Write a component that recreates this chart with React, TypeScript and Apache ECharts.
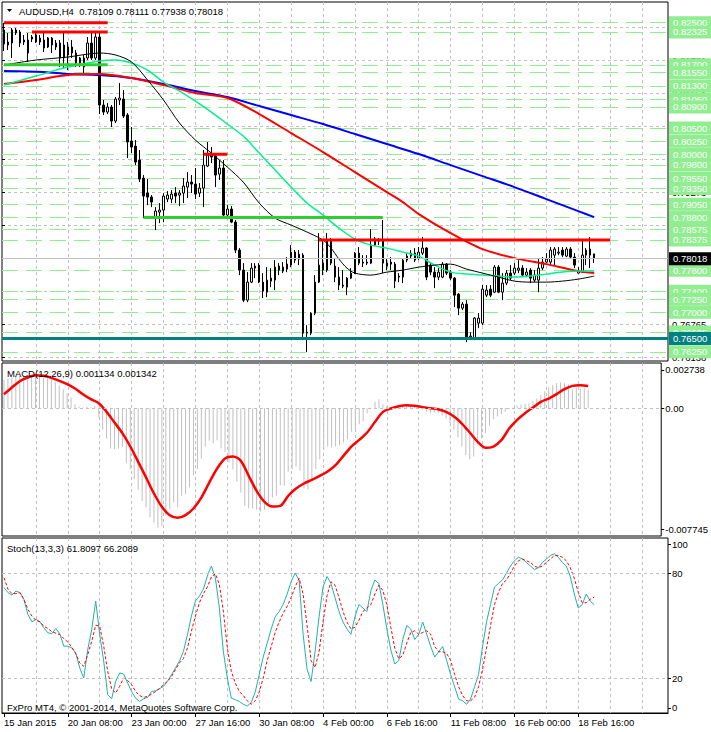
import React, { useEffect, useRef } from "react";
import * as echarts from "echarts";

// ---------------- data ----------------
const symbolName = "AUDUSD,H4";
const timeLabels = ["15 Jan 2015", "20 Jan 08:00", "23 Jan 00:00", "27 Jan 16:00", "30 Jan 08:00", "4 Feb 00:00", "6 Feb 16:00", "11 Feb 08:00", "16 Feb 00:00", "18 Feb 16:00"];
const barsPerTimeLabel = 16;
const barsPerGridLine = 8;

const opens = [
  0.82361, 0.82133, 0.82114, 0.82361, 0.82323, 0.82171, 0.81924, 0.8219, 0.82133, 0.82209,
  0.82171, 0.82038, 0.82209, 0.82114, 0.82114, 0.82076, 0.81886, 0.82038, 0.81924, 0.81829,
  0.81658, 0.81829, 0.82114, 0.81829, 0.82228, 0.80936, 0.80803, 0.80898, 0.80632, 0.81031,
  0.8105, 0.80746, 0.80252, 0.80157, 0.79891, 0.79549, 0.79264, 0.79188, 0.78789, 0.78903,
  0.78941, 0.7915, 0.7915, 0.79264, 0.79226, 0.79264, 0.79378, 0.79473, 0.79435, 0.79264,
  0.79359, 0.79777, 0.79986, 0.79967, 0.79625, 0.79739, 0.78846, 0.7896, 0.78713, 0.78181,
  0.77801, 0.77231, 0.77573, 0.77839, 0.77896, 0.77573, 0.77383, 0.77592, 0.77611, 0.77877,
  0.77858, 0.7782, 0.77896, 0.78143, 0.7801, 0.78086, 0.76604, 0.76604, 0.76984, 0.77573,
  0.77934, 0.77801, 0.78371, 0.77877, 0.77668, 0.77516, 0.77478, 0.77649, 0.77744, 0.78124,
  0.77953, 0.77953, 0.77934, 0.78276, 0.78352, 0.78371, 0.77934, 0.77953, 0.77915, 0.77668,
  0.77668, 0.77991, 0.78067, 0.78124, 0.78029, 0.78124, 0.78219, 0.77896, 0.77763, 0.77668,
  0.77668, 0.77915, 0.77763, 0.77649, 0.77345, 0.77079, 0.77155, 0.76528, 0.76509, 0.76794,
  0.76794, 0.77326, 0.7744, 0.77383, 0.77858, 0.77383, 0.77554, 0.77744, 0.77744, 0.77801,
  0.77839, 0.77706, 0.77801, 0.77611, 0.77611, 0.77839, 0.77953, 0.77953, 0.78086, 0.78124,
  0.78181, 0.78067, 0.782, 0.78048, 0.77744, 0.77763, 0.78086, 0.782, 0.78109,
];
const highs = [
  0.82494, 0.82304, 0.82399, 0.82399, 0.82361, 0.82266, 0.82304, 0.82266, 0.82323, 0.82266,
  0.82304, 0.82228, 0.82228, 0.82171, 0.82171, 0.82304, 0.82133, 0.82171, 0.81981, 0.81848,
  0.81886, 0.82228, 0.82304, 0.82304, 0.82304, 0.81031, 0.80974, 0.80936, 0.81088, 0.81354,
  0.81221, 0.80784, 0.80518, 0.80271, 0.80081, 0.79606, 0.7953, 0.79226, 0.78998, 0.79074,
  0.79264, 0.79302, 0.79321, 0.79378, 0.79321, 0.79549, 0.79663, 0.79606, 0.79739, 0.79454,
  0.80081, 0.80233, 0.80138, 0.80024, 0.79891, 0.79891, 0.79036, 0.79017, 0.78751, 0.78219,
  0.77934, 0.77763, 0.77934, 0.77934, 0.77934, 0.77744, 0.77858, 0.77839, 0.77991, 0.77934,
  0.77953, 0.78048, 0.78276, 0.78181, 0.78181, 0.78124, 0.76756, 0.77003, 0.77706, 0.78504,
  0.78371, 0.78504, 0.78409, 0.78029, 0.77858, 0.77801, 0.77668, 0.77839, 0.78143, 0.78238,
  0.78086, 0.78086, 0.7858, 0.78428, 0.78409, 0.78751, 0.78029, 0.78048, 0.77953, 0.77744,
  0.78029, 0.78124, 0.78181, 0.78219, 0.78238, 0.78428, 0.78238, 0.77953, 0.77858, 0.77839,
  0.77953, 0.77934, 0.77801, 0.77668, 0.77364, 0.77193, 0.77231, 0.76623, 0.76908, 0.76984,
  0.77516, 0.77516, 0.77516, 0.77896, 0.77896, 0.77744, 0.77801, 0.77896, 0.77934, 0.77991,
  0.77896, 0.77839, 0.77839, 0.77801, 0.78029, 0.78048, 0.78124, 0.78238, 0.78238, 0.78238,
  0.78238, 0.78238, 0.78238, 0.78124, 0.77858, 0.78371, 0.78219, 0.78428, 0.78111,
];
const lows = [
  0.81962, 0.81981, 0.81829, 0.82266, 0.82038, 0.82076, 0.81753, 0.82133, 0.82114, 0.82076,
  0.81943, 0.82019, 0.81924, 0.81981, 0.81658, 0.81639, 0.81601, 0.81829, 0.81658, 0.81658,
  0.81544, 0.81791, 0.81791, 0.81791, 0.80765, 0.80746, 0.80765, 0.80518, 0.80594, 0.80936,
  0.80689, 0.79929, 0.80024, 0.79796, 0.79473, 0.78789, 0.79036, 0.78998, 0.78561, 0.78694,
  0.78713, 0.79093, 0.79074, 0.79074, 0.79017, 0.79074, 0.79169, 0.79264, 0.7915, 0.79188,
  0.78998, 0.79758, 0.79834, 0.79378, 0.79511, 0.78808, 0.78808, 0.78694, 0.78124, 0.77706,
  0.77193, 0.77193, 0.77554, 0.77649, 0.77554, 0.77269, 0.77288, 0.77478, 0.77421, 0.77706,
  0.77744, 0.77763, 0.77858, 0.77934, 0.77896, 0.76471, 0.76243, 0.76566, 0.76946, 0.77554,
  0.77706, 0.77763, 0.77896, 0.77573, 0.77421, 0.77459, 0.77326, 0.7763, 0.77725, 0.77896,
  0.77858, 0.77896, 0.77915, 0.78257, 0.78276, 0.77744, 0.77801, 0.77801, 0.77459, 0.77573,
  0.77554, 0.77953, 0.78029, 0.77953, 0.77991, 0.78086, 0.77611, 0.77706, 0.77459, 0.77611,
  0.77649, 0.77706, 0.77611, 0.77098, 0.76946, 0.77041, 0.76433, 0.76471, 0.76471, 0.76699,
  0.76756, 0.77288, 0.77288, 0.77364, 0.77364, 0.77231, 0.77516, 0.77611, 0.77706, 0.77744,
  0.77668, 0.77668, 0.77554, 0.77573, 0.77383, 0.77801, 0.77934, 0.77896, 0.77896, 0.78086,
  0.78048, 0.78048, 0.78029, 0.77839, 0.77744, 0.77763, 0.77896, 0.77839, 0.77938,
];
const closes = [
  0.82095, 0.82076, 0.82361, 0.82304, 0.82114, 0.82133, 0.82171, 0.82228, 0.82266, 0.82133,
  0.82019, 0.82209, 0.82076, 0.82038, 0.81829, 0.81829, 0.82038, 0.81924, 0.81734, 0.81734,
  0.81829, 0.82114, 0.81829, 0.82228, 0.80936, 0.80803, 0.80898, 0.80632, 0.8105, 0.81069,
  0.80727, 0.80233, 0.80138, 0.79853, 0.7953, 0.79207, 0.79188, 0.79093, 0.78922, 0.78941,
  0.79207, 0.79226, 0.79245, 0.79207, 0.79264, 0.79397, 0.79473, 0.79435, 0.79245, 0.79359,
  0.79796, 0.79986, 0.79948, 0.79606, 0.79739, 0.78846, 0.7896, 0.78713, 0.78181, 0.77801,
  0.77231, 0.77573, 0.77839, 0.77877, 0.77573, 0.77402, 0.77611, 0.77649, 0.77858, 0.77801,
  0.77782, 0.77915, 0.78143, 0.77991, 0.78105, 0.76604, 0.76623, 0.76984, 0.77573, 0.77896,
  0.77801, 0.78371, 0.77934, 0.77668, 0.77516, 0.77497, 0.77649, 0.77744, 0.78124, 0.77934,
  0.77934, 0.77934, 0.78276, 0.7839, 0.7839, 0.77934, 0.77877, 0.77915, 0.77592, 0.77687,
  0.77991, 0.78067, 0.78124, 0.77991, 0.78143, 0.78219, 0.77668, 0.77763, 0.77668, 0.77763,
  0.77915, 0.77744, 0.77649, 0.77326, 0.77079, 0.77155, 0.76528, 0.76547, 0.76889, 0.76889,
  0.7744, 0.77421, 0.77326, 0.77858, 0.77383, 0.77554, 0.77744, 0.77649, 0.77839, 0.77839,
  0.77706, 0.77763, 0.77649, 0.77706, 0.77839, 0.77953, 0.7801, 0.78181, 0.782, 0.78143,
  0.78086, 0.782, 0.78048, 0.77896, 0.77782, 0.78086, 0.78181, 0.78086, 0.78018,
];

// moving averages: [bar index, price]
const maFast = [[0, 0.81696], [8, 0.81791], [16, 0.81848], [24, 0.81924], [28, 0.81886], [32, 0.81753], [36, 0.81411], [40, 0.81031], [44, 0.80594], [48, 0.80271], [52, 0.80024], [56, 0.79758], [60, 0.79473], [64, 0.79074], [68, 0.78789], [72, 0.78656], [76, 0.78523], [80, 0.78371], [82, 0.78219], [84, 0.7801], [86, 0.77839], [88, 0.77744], [92, 0.77706], [96, 0.77763], [100, 0.77801], [104, 0.77858], [108, 0.77896], [112, 0.77915], [116, 0.7782], [120, 0.77744], [124, 0.77668], [128, 0.77592], [132, 0.77573], [136, 0.77573], [140, 0.77592], [144, 0.7763], [148, 0.77687]];
const maMid = [[0, 0.81316], [8, 0.81487], [16, 0.81658], [24, 0.81772], [28, 0.81791], [32, 0.81734], [36, 0.81601], [40, 0.81373], [44, 0.81202], [48, 0.81012], [52, 0.80803], [56, 0.80575], [60, 0.80347], [64, 0.80024], [68, 0.79701], [72, 0.79378], [76, 0.79074], [80, 0.78846], [84, 0.78599], [88, 0.7839], [92, 0.78276], [96, 0.78219], [100, 0.78143], [104, 0.78067], [108, 0.77896], [112, 0.77763], [116, 0.77725], [120, 0.77706], [124, 0.77687], [128, 0.77668], [132, 0.77687], [136, 0.77725], [140, 0.77763], [144, 0.77782], [148, 0.77782]];
const maSlow = [[0, 0.81335], [8, 0.81411], [16, 0.81506], [24, 0.81525], [32, 0.81449], [40, 0.81316], [48, 0.81164], [56, 0.81069], [64, 0.80765], [72, 0.80404], [80, 0.80043], [88, 0.79663], [96, 0.79283], [100, 0.79093], [104, 0.78865], [112, 0.78504], [120, 0.782], [128, 0.78029], [136, 0.77915], [144, 0.77782], [148, 0.77744]];
const maLong = [[0, 0.81582], [10, 0.81563], [16, 0.81525], [24, 0.81506], [32, 0.81449], [40, 0.81335], [48, 0.81202], [56, 0.81088], [64, 0.80917], [72, 0.80746], [80, 0.80575], [88, 0.80385], [96, 0.80195], [104, 0.80005], [112, 0.79796], [120, 0.79587], [128, 0.79378], [136, 0.7915], [144, 0.78922], [148, 0.78808]];

// horizontal levels
const levelPrices = [0.825, 0.82325, 0.817, 0.8155, 0.813, 0.8105, 0.809, 0.805, 0.8025, 0.8, 0.798, 0.7955, 0.7935, 0.7905, 0.788, 0.78575, 0.78375, 0.778, 0.774, 0.7725, 0.77, 0.76625, 0.7625];
const supportPrice = 0.765;
const redSegments = [[0, 26, 0.825], [7, 26, 0.82325], [50, 56, 0.8], [79, 152, 0.78375]];
const greenSegments = [[0, 26, 0.817], [35, 95, 0.788]];
const priceScaleTicks = [0.76138, 0.76765, 0.77392, 0.78019, 0.78646, 0.79273, 0.799, 0.80527, 0.81154, 0.81781, 0.82408];
const priceMin = 0.76075;
const priceMax = 0.82893;

// MACD
const macdMain = [
  0.001717, 0.001798, 0.001858, 0.001919, 0.001959, 0.002, 0.001959, 0.002, 0.001959, 0.001919,
  0.001858, 0.001818, 0.001717, 0.001596, 0.001394, 0.001151, 0.000909, 0.000646, 0.000242, 0.000101,
  0.00004, 0.000081, 0.000061, 0.000141, -0.000566, -0.001313, -0.001838, -0.002444, -0.002485, -0.002444,
  -0.002323, -0.003333, -0.003697, -0.004303, -0.004949, -0.005616, -0.00602, -0.006626, -0.006929, -0.007232,
  -0.007131, -0.006525, -0.006121, -0.005717, -0.00602, -0.005313, -0.005212, -0.004808, -0.004101, -0.003697,
  -0.00305, -0.002323, -0.00198, -0.002121, -0.001939, -0.002444, -0.002646, -0.003293, -0.003697, -0.004464,
  -0.005111, -0.005919, -0.00606, -0.00608, -0.006161, -0.006282, -0.006161, -0.005919, -0.005414, -0.005313,
  -0.004666, -0.004707, -0.003858, -0.003697, -0.003535, -0.003798, -0.004868, -0.004949, -0.004343, -0.003697,
  -0.003091, -0.002525, -0.002323, -0.002384, -0.002323, -0.002242, -0.002081, -0.001879, -0.001434, -0.001273,
  -0.00097, -0.000788, -0.000303, 0.00002, 0.000384, 0.000545, 0.000242, 0.000101, -0.000101, -0.000061,
  0.000081, 0.000141, 0.000182, 0.000101, 0.000061, 0.00004, -0.000101, -0.000222, -0.000303, -0.000263,
  -0.000303, -0.000465, -0.000626, -0.000909, -0.001313, -0.001778, -0.002323, -0.002848, -0.003091, -0.002929,
  -0.002182, -0.001838, -0.001515, -0.001071, -0.000667, -0.000505, -0.000364, -0.000222, -0.000061, 0.00002,
  0.000141, 0.000222, 0.000263, 0.000303, 0.000424, 0.000586, 0.000788, 0.00103, 0.001273, 0.001394,
  0.001515, 0.001555, 0.001515, 0.001434, 0.001151, 0.001232, 0.001192, 0.001232, 0.001134,
];
const macdSignal = [[0, 0.000848], [2, 0.001252], [4, 0.001636], [6, 0.001858], [8, 0.002], [10, 0.001959], [12, 0.001838], [14, 0.001656], [16, 0.001454], [18, 0.001192], [20, 0.000848], [22, 0.000545], [24, 0.000303], [26, -0.000222], [28, -0.000869], [30, -0.001515], [32, -0.002323], [34, -0.003252], [36, -0.004202], [38, -0.005171], [40, -0.005979], [42, -0.006484], [44, -0.006646], [46, -0.006484], [48, -0.00608], [50, -0.005414], [52, -0.004505], [54, -0.003656], [56, -0.00305], [58, -0.002929], [60, -0.003192], [62, -0.004101], [64, -0.00501], [66, -0.005676], [68, -0.005959], [70, -0.005919], [72, -0.005313], [74, -0.004868], [76, -0.004565], [78, -0.004343], [80, -0.004101], [82, -0.003838], [84, -0.003454], [86, -0.002889], [88, -0.002323], [90, -0.001919], [92, -0.001475], [94, -0.000828], [96, -0.000222], [98, -0.00002], [100, 0.000121], [102, 0.000182], [104, 0.000141], [106, 0.000061], [108, 0], [110, -0.000061], [112, -0.000222], [114, -0.000505], [116, -0.000929], [118, -0.001475], [120, -0.00204], [122, -0.002404], [124, -0.002323], [126, -0.001939], [128, -0.001232], [130, -0.000707], [132, -0.000303], [134, 0.00004], [136, 0.000384], [138, 0.000586], [140, 0.000848], [142, 0.001151], [144, 0.001353], [146, 0.001394], [148, 0.001342]];
const macdMax = 0.002738;
const macdMin = -0.007745;
const macdAxisLabels = ["0.002738", "0.00", "-0.007745"];

// Stochastic
const stochK = [
  71.6, 68.8, 67.4, 69.7, 68.8, 64.9, 56.3, 52.1, 53.5, 52.1, 48.7, 45.8, 45.4, 48.3, 45.2, 38.2, 38.2, 37.2, 34.3, 25.7,
  20.0, 36.3, 47.7, 64.0, 44.8, 29.6, 10.4, 8.1, 18.1, 22.9, 22.3, 17.1, 12.3, 8.5, 6.6, 8.1, 8.9, 12.3, 12.7, 13.9,
  15.2, 18.1, 21.9, 25.7, 29.6, 35.3, 44.8, 55.4, 64.0, 66.8, 70.7, 78.3, 84.0, 77.3, 60.1, 35.3, 20.0, 8.5, 7.6, 6.6,
  5, 4, 6, 12, 22, 32, 40, 48, 55, 58, 62, 68, 75, 80, 76, 45, 25, 18, 35, 55,
  72, 78, 74, 66, 58, 52, 48, 45, 55, 62, 60, 58, 70, 76, 74, 62, 48, 36, 28, 30,
  42, 50, 48, 42, 45, 52, 45, 38, 32, 35, 38, 30, 22, 15, 8, 7, 5, 8, 15, 22,
  38, 52, 62, 72, 74, 76, 80, 84, 87, 89, 88, 86, 84, 82, 83, 86, 88, 90, 91, 89,
  86, 84, 78, 68, 60, 62, 68, 64, 61.8097,
];
const stochD = [
  77.3, 70.7, 68.2, 68.2, 68.8, 64.9, 59.2, 55.4, 52.9, 52.1, 49.6, 48.3, 46.4, 45.6, 44.8, 42.5, 40.6, 37.6, 33.8, 28.6,
  26.7, 33.4, 41.0, 50.2, 49.6, 38.2, 23.8, 13.9, 11.4, 15.2, 20.0, 18.5, 16.2, 12.3, 10.0, 8.9, 9.5, 10.8, 12.3, 13.9,
  16.2, 18.1, 20.9, 24.8, 28.6, 31.1, 37.2, 46.8, 55.4, 63.0, 68.2, 72.0, 77.7, 79.6, 73.5, 58.2, 37.2, 23.8, 17.1, 12.3,
  10, 7, 5, 7, 12, 20, 30, 38, 46, 52, 57, 61, 66, 72, 77, 68, 50, 30, 26, 35,
  52, 67, 75, 73, 66, 58, 52, 48, 49, 53, 58, 60, 62, 68, 73, 70, 62, 49, 37, 31,
  33, 40, 46, 47, 45, 46, 47, 45, 38, 35, 35, 34, 30, 22, 15, 10, 7, 7, 9, 15,
  25, 37, 50, 62, 69, 74, 76, 80, 84, 87, 88, 87, 86, 84, 83, 84, 86, 88, 90, 90,
  89, 87, 83, 77, 69, 63, 63, 65, 66.2089,
];
const stochLevels = [20, 80];
const stochAxisLabels = ["100", "80", "20", "0"];

// ---------------- layout ----------------
const W = 711;
const H = 732;
const PLOT_L = 2;
const PLOT_R = 668;
const SLOTS = 167;
const MAIN = [2, 361];
const MACD = [363, 536];
const STOCH = [538, 713];
const FONT = "Liberation Sans";
const FS = 9.5;

export default function App() {
  const ref = useRef<HTMLDivElement>(null);
  useEffect(() => {
    document.body.style.margin = "0";
    const chart = echarts.init(ref.current!, null, { renderer: "svg" });
    const slot = (PLOT_R - PLOT_L) / SLOTS;
    const cx = (i: number) => PLOT_L + slot * (i + 0.5);
    const priceY = (p: number) => MAIN[0] + ((priceMax - p) / (priceMax - priceMin)) * (MAIN[1] - MAIN[0]);
    const cats = Array.from({ length: SLOTS }, (_, i) => String(i));
    const dash = { color: "#C0C0C0", type: [3, 3] as any, width: 1 };
    const lastGridBar = Math.floor((SLOTS - 7) / barsPerGridLine) * barsPerGridLine;
    const vCount = lastGridBar / barsPerGridLine - 1;
    const vGrid = (top: number, bottom: number) => ({ left: cx(barsPerGridLine), right: W - cx(lastGridBar), top, bottom: H - bottom });
    const borderGrid = (top: number, bottom: number) => ({ left: PLOT_L, right: W - PLOT_R, top, bottom: H - bottom, show: true, borderColor: "#000", borderWidth: 1, backgroundColor: "transparent" });
    const hiddenCat = (gi: number) => ({ type: "category", gridIndex: gi, data: cats, boundaryGap: true, show: false });
    const vAxisX = (gi: number) => ({ type: "value", gridIndex: gi, min: 0, max: vCount, interval: 1, axisLine: { show: false }, axisTick: { show: false }, axisLabel: { show: false }, splitLine: { show: true, lineStyle: dash } });
    const hiddenVal = (gi: number) => ({ type: "value", gridIndex: gi, min: 0, max: 1, show: false });
    const isTimeLabel = (idx: number) => idx % barsPerTimeLabel === 0 && idx / barsPerTimeLabel < timeLabels.length;
    const n = closes.length;
    const candles = opens.map((o, i) => [o, closes[i], lows[i], highs[i]]);
    const txt = { fontFamily: FONT, fontSize: FS, color: "#000" };

    const segSeries = (segs: number[][], color: string) =>
      segs.map((s) => ({
        type: "line", xAxisIndex: 0, yAxisIndex: 0, z: 5, silent: true, symbol: "none",
        data: [[s[0], s[2]], [s[1], s[2]]],
        lineStyle: { color, width: 3 },
      }));
    const maSeries = (d: number[][], color: string, width: number) => ({
      type: "line", xAxisIndex: 0, yAxisIndex: 0, z: 4, silent: true, symbol: "none", smooth: 0.3,
      data: d, lineStyle: { color, width },
    });
    const boxLabel = (bg: string, text: string) => ({
      show: true, position: "end", distance: 1, formatter: text, backgroundColor: bg, color: "#fff",
      fontFamily: FONT, fontSize: 9.5, padding: [2, 5, 1, 4], lineHeight: 10,
    });

    const redSeries = segSeries(redSegments, "#FF0000");
    (redSeries[redSeries.length - 1] as any).markLine = {
      silent: true, symbol: ["none", "none"], z: 6, precision: 6,
      data: [
        { yAxis: supportPrice, lineStyle: { color: "#008080", width: 3, type: "solid" }, label: boxLabel("#008080", supportPrice.toFixed(5)) },
        { yAxis: closes[n - 1], lineStyle: { color: "#C0C0C0", width: 1, type: "solid" }, label: boxLabel("#000000", closes[n - 1].toFixed(5)) },
      ],
    };

    const option: any = {
      animation: false,
      backgroundColor: "#fff",
      grid: [
        borderGrid(MAIN[0], MAIN[1]),
        vGrid(MAIN[0], MAIN[1]),
        { left: PLOT_L, right: W - PLOT_R, top: priceY(priceScaleTicks[priceScaleTicks.length - 1]), bottom: H - priceY(priceScaleTicks[0]) },
        borderGrid(MACD[0], MACD[1]),
        vGrid(MACD[0], MACD[1]),
        borderGrid(STOCH[0], STOCH[1]),
        vGrid(STOCH[0], STOCH[1]),
      ],
      xAxis: [
        hiddenCat(0),
        vAxisX(1),
        hiddenVal(2),
        hiddenCat(3),
        vAxisX(4),
        {
          type: "category", gridIndex: 5, data: cats, boundaryGap: true, position: "bottom",
          axisLine: { show: true, lineStyle: { color: "#000" } },
          axisTick: { show: true, alignWithLabel: true, interval: (i: number) => isTimeLabel(i), length: 4, lineStyle: { color: "#000" } },
          axisLabel: { show: true, interval: (i: number) => isTimeLabel(i), formatter: (_v: string, i: number) => timeLabels[i / barsPerTimeLabel] ?? "", align: "left", margin: 4, ...txt },
          splitLine: { show: false },
        },
        vAxisX(6),
      ],
      yAxis: [
        { type: "value", gridIndex: 0, min: priceMin, max: priceMax, show: false, scale: true },
        hiddenVal(1),
        {
          type: "value", gridIndex: 2, min: 0, max: priceScaleTicks.length - 1, interval: 1, position: "right",
          axisLine: { show: false }, axisTick: { show: true, length: 3, lineStyle: { color: "#000" } },
          axisLabel: { show: true, margin: 4, formatter: (v: number) => priceScaleTicks[Math.round(v)].toFixed(5), ...txt },
          splitLine: { show: true, lineStyle: dash },
        },
        {
          type: "value", gridIndex: 3, min: macdMin, max: macdMax, position: "right",
          axisLine: { show: false },
          axisTick: { show: true, length: 3, customValues: [macdMax - (macdMax - macdMin) * 0.04, 0, macdMin + (macdMax - macdMin) * 0.04], lineStyle: { color: "#000" } },
          axisLabel: {
            show: true, margin: 4, ...txt,
            customValues: [macdMax - (macdMax - macdMin) * 0.04, 0, macdMin + (macdMax - macdMin) * 0.04],
            formatter: (v: number) => (v > 0.0005 ? macdAxisLabels[0] : v < -0.0005 ? macdAxisLabels[2] : macdAxisLabels[1]),
          },
          splitLine: { show: false },
        },
        hiddenVal(4),
        {
          type: "value", gridIndex: 5, min: 0, max: 100, position: "right",
          axisLine: { show: false },
          axisTick: { show: true, length: 3, customValues: [96.5, 80, 20, 3], lineStyle: { color: "#000" } },
          axisLabel: {
            show: true, margin: 4, ...txt, customValues: [96.5, 80, 20, 3],
            formatter: (v: number) => (v > 90 ? stochAxisLabels[0] : v > 50 ? stochAxisLabels[1] : v > 10 ? stochAxisLabels[2] : stochAxisLabels[3]),
          },
          splitLine: { show: false },
        },
        hiddenVal(6),
      ],
      series: [
        {
          type: "candlestick", xAxisIndex: 0, yAxisIndex: 0, z: 3, silent: true, barWidth: 2,
          data: candles,
          itemStyle: { color: "#FFFFFF", color0: "#000000", borderColor: "#000000", borderColor0: "#000000", borderWidth: 1 },
          markLine: {
            silent: true, symbol: ["none", "none"], z: 1, precision: 6,
            lineStyle: { color: "#90EE90", width: 1, type: [16, 8] },
            data: levelPrices.map((p) => ({ yAxis: p, label: boxLabel("#90EE90", p.toFixed(5)) })),
          },
        },
        maSeries(maLong, "#0000FF", 2),
        maSeries(maSlow, "#FF0000", 2),
        maSeries(maMid, "#00F08C", 1.5),
        maSeries(maFast, "#000000", 1),
        ...segSeries(greenSegments, "#32CD32"),
        ...redSeries,
        {
          type: "bar", xAxisIndex: 3, yAxisIndex: 3, silent: true, barWidth: 1, data: macdMain,
          itemStyle: { color: "#C0C0C0" },
          markLine: { silent: true, symbol: ["none", "none"], precision: 6, label: { show: false }, lineStyle: dash, data: [{ yAxis: 0 }] },
        },
        {
          type: "line", xAxisIndex: 3, yAxisIndex: 3, silent: true, symbol: "none", smooth: 0.3, z: 4,
          data: macdSignal, lineStyle: { color: "#FF0000", width: 2.5 },
        },
        {
          type: "line", xAxisIndex: 5, yAxisIndex: 5, silent: true, symbol: "none", z: 4,
          data: stochK, lineStyle: { color: "#20B2AA", width: 1 },
          markLine: { silent: true, symbol: ["none", "none"], precision: 6, label: { show: false }, lineStyle: dash, data: stochLevels.map((v) => ({ yAxis: v })) },
        },
        {
          type: "line", xAxisIndex: 5, yAxisIndex: 5, silent: true, symbol: "none", z: 4,
          data: stochD, lineStyle: { color: "#FF0000", width: 1, type: [3, 2] },
        },
      ],
      graphic: [
        { type: "polygon", shape: { points: [[7, 9], [12, 9], [9.5, 12]] }, style: { fill: "#000" }, z: 10 },
        { type: "text", x: 19, y: 11, z: 10, style: { text: `${symbolName}  ${opens[n - 1].toFixed(5)} ${highs[n - 1].toFixed(5)} ${lows[n - 1].toFixed(5)} ${closes[n - 1].toFixed(5)}`, fill: "#000", font: `${FS}px "${FONT}"`, verticalAlign: "middle" } },
        { type: "text", x: 7, y: MACD[0] + 10, z: 10, style: { text: `MACD(12,26,9) ${macdMain[n - 1].toFixed(6)} ${macdSignal[macdSignal.length - 1][1].toFixed(6)}`, fill: "#000", font: `${FS}px "${FONT}"`, verticalAlign: "middle" } },
        { type: "text", x: 7, y: STOCH[0] + 10, z: 10, style: { text: `Stoch(13,3,3) ${stochK[n - 1].toFixed(4)} ${stochD[n - 1].toFixed(4)}`, fill: "#000", font: `${FS}px "${FONT}"`, verticalAlign: "middle" } },
        { type: "text", x: 7, y: STOCH[1] - 6, z: 10, style: { text: "FxPro MT4, © 2001-2014, MetaQuotes Software Corp.", fill: "#000", font: `${FS}px "${FONT}"`, verticalAlign: "middle" } },
      ],
    };
    chart.setOption(option);
    return () => chart.dispose();
  }, []);
  return <div ref={ref} style={{ position: "absolute", left: 0, top: 0, width: W, height: H, background: "#fff" }} />;
}
